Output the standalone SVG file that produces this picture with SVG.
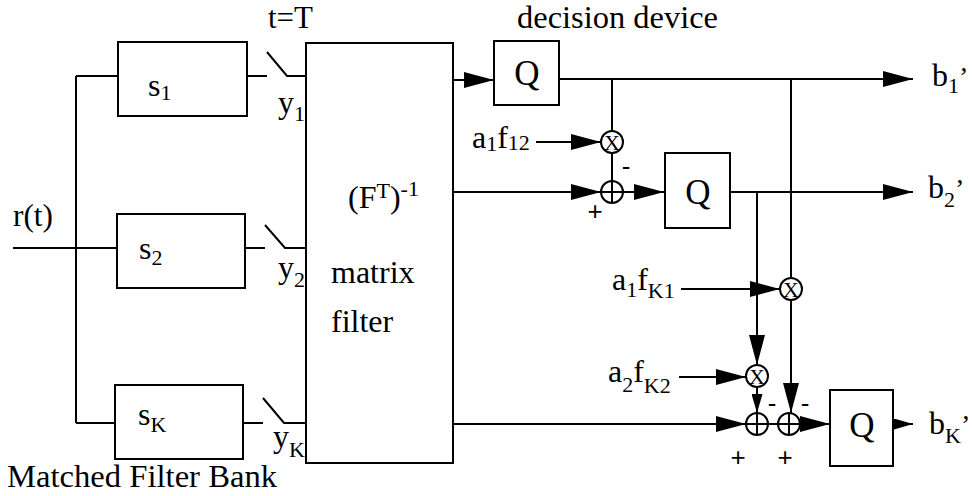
<svg xmlns="http://www.w3.org/2000/svg" width="972" height="496" viewBox="0 0 972 496">
<defs>
<style>
.ln{fill:none;stroke:#000;stroke-width:2}
.bx{fill:#fff;stroke:#000;stroke-width:2}
.t{font-family:"Liberation Serif","Times New Roman",serif;font-size:32px;fill:#000}
.s{font-size:22px}
.p{font-size:28px}
.q{font-family:"Liberation Serif","Times New Roman",serif;font-size:35px;fill:#000;text-anchor:middle}
.x{font-family:"Liberation Serif","Times New Roman",serif;font-size:22px;fill:#000;text-anchor:middle}
.pm{font-family:"Liberation Sans",Arial,sans-serif;font-size:26px;fill:#000;text-anchor:middle}
</style>
<marker id="ah" markerUnits="userSpaceOnUse" markerWidth="30" markerHeight="16" refX="30" refY="8" orient="auto" viewBox="0 0 30 16">
<path d="M0,0 L30,8 L0,16 z" fill="#000"/>
</marker>
<marker id="as" markerUnits="userSpaceOnUse" markerWidth="19" markerHeight="11" refX="19" refY="5.5" orient="auto" viewBox="0 0 19 11">
<path d="M0,0 L19,5.5 L0,11 z" fill="#000"/>
</marker>
</defs>
<rect width="972" height="496" fill="#fff"/>

<g id="connectors">
<path class="ln" d="M13,248 H117"/>
<path class="ln" d="M76,76 V423"/>
<path class="ln" d="M76,76 H118"/>
<path class="ln" d="M76,423 H115"/>
<path class="ln" d="M247,76 H267 M267,52 L287,76 H306"/>
<path class="ln" d="M245,248 H265 M265,225 L285,248 H306"/>
<path class="ln" d="M243,423 H263 M263,398 L284,423 H306"/>
<path class="ln" d="M453,80 H494" marker-end="url(#ah)"/>
<path class="ln" d="M453,192 H601" marker-end="url(#ah)"/>
<path class="ln" d="M453,424 H746" marker-end="url(#ah)"/>
<path class="ln" d="M559,79 H913" marker-end="url(#ah)"/>
<path class="ln" d="M612,79 V131"/>
<path class="ln" d="M612,153 V181"/>
<path class="ln" d="M536,142 H601" marker-end="url(#ah)"/>
<path class="ln" d="M623,192 H664" marker-end="url(#ah)"/>
<path class="ln" d="M730,192 H913" marker-end="url(#ah)"/>
<path class="ln" d="M791,79 V278"/>
<path class="ln" d="M757,192 V365" marker-end="url(#ah)"/>
<path class="ln" d="M681,289 H780" marker-end="url(#ah)"/>
<path class="ln" d="M791,300 V413" marker-end="url(#ah)"/>
<path class="ln" d="M679,377 H746" marker-end="url(#ah)"/>
<path class="ln" d="M757,387 V413" marker-end="url(#as)"/>
<path class="ln" d="M768,424 H778"/>
<path class="ln" d="M800,424 H830" marker-end="url(#ah)"/>
<path class="ln" d="M893,424 H913" marker-end="url(#as)"/>
</g>

<g id="s1"><rect class="bx" x="118" y="42" width="129" height="74"/>
<text class="t" x="148" y="96">s<tspan class="s" dy="4">1</tspan></text></g>
<g id="s2"><rect class="bx" x="117" y="214" width="128" height="74"/>
<text class="t" x="139" y="259">s<tspan class="s" dy="6">2</tspan></text></g>
<g id="sK"><rect class="bx" x="115" y="385" width="128" height="74"/>
<text class="t" x="138" y="425">s<tspan class="s" dy="7">K</tspan></text></g>

<g id="matrix"><rect class="bx" x="306" y="43" width="147" height="420"/>
<text class="t" x="348" y="208">(F<tspan class="s" dy="-10">T</tspan><tspan dy="10">)</tspan><tspan class="s" dy="-12">-1</tspan></text>
<text class="t" x="331" y="283">matrix</text>
<text class="t" x="331" y="332" font-size="31">filter</text></g>

<g id="Q1"><rect class="bx" x="494" y="41" width="65" height="64"/><text class="q" x="527" y="85">Q</text></g>
<g id="Q2"><rect class="bx" x="665" y="153" width="65" height="75"/><text class="q" x="698" y="204">Q</text></g>
<g id="Q3"><rect class="bx" x="830" y="390" width="63" height="76"/><text class="q" x="862" y="437">Q</text></g>

<g id="mul1"><circle class="bx" cx="612" cy="142" r="11"/><text class="x" x="612" y="150">X</text></g>
<g id="add1"><circle class="bx" cx="612" cy="192" r="11"/><path class="ln" d="M601,192 H623 M612,181 V203"/></g>
<g id="mulK1"><circle class="bx" cx="791" cy="289" r="11"/><text class="x" x="791" y="297">X</text></g>
<g id="mulK2"><circle class="bx" cx="757" cy="376" r="11"/><text class="x" x="757" y="384">X</text></g>
<g id="addK1"><circle class="bx" cx="757" cy="424" r="11"/><path class="ln" d="M746,424 H768 M757,413 V435"/></g>
<g id="addK2"><circle class="bx" cx="789" cy="424" r="11"/><path class="ln" d="M778,424 H800 M789,413 V435"/></g>

<g id="labels">
<text class="t" x="268" y="28" font-size="28" textLength="45" lengthAdjust="spacingAndGlyphs">t=T</text>
<text class="t" x="517" y="28" font-size="28" textLength="201" lengthAdjust="spacingAndGlyphs">decision device</text>
<text class="t" x="13" y="226" textLength="40" lengthAdjust="spacingAndGlyphs">r(t)</text>
<text class="t" x="278" y="113">y<tspan class="s" dy="8">1</tspan></text>
<text class="t" x="278" y="278">y<tspan class="s" dy="9">2</tspan></text>
<text class="t" x="273" y="447">y<tspan class="s" dy="10">K</tspan></text>
<text class="t" x="7" y="487" textLength="270" lengthAdjust="spacingAndGlyphs">Matched Filter Bank</text>
<text class="t" x="472" y="148">a<tspan class="s" dy="3">1</tspan><tspan dy="-3">f</tspan><tspan class="s" dy="2">12</tspan></text>
<text class="t" x="612" y="290">a<tspan class="s" dy="7">1</tspan><tspan dy="-7">f</tspan><tspan class="s" dy="8">K1</tspan></text>
<text class="t" x="608" y="382">a<tspan class="s" dy="10">2</tspan><tspan dy="-10">f</tspan><tspan class="s" dy="11">K2</tspan></text>
<text class="t" x="932" y="86">b<tspan class="s" dy="7">1</tspan><tspan class="p" dy="-7">’</tspan></text>
<text class="t" x="928" y="198">b<tspan class="s" dy="9">2</tspan><tspan class="p" dy="-9">’</tspan></text>
<text class="t" x="929" y="434">b<tspan class="s" dy="9">K</tspan><tspan class="p" dy="-9">’</tspan></text>
<text class="pm" x="626" y="175">-</text>
<text class="pm" x="595" y="220">+</text>
<text class="pm" x="772" y="412">-</text>
<text class="pm" x="805" y="412">-</text>
<text class="pm" x="738" y="466">+</text>
<text class="pm" x="785" y="466">+</text>
</g>
</svg>
